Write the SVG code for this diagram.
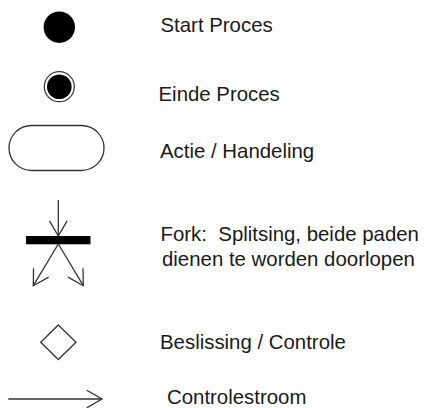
<svg xmlns="http://www.w3.org/2000/svg" width="426" height="408" viewBox="0 0 426 408">
<style>
.t{font-family:"Liberation Sans",Arial,sans-serif;font-size:20.4px;fill:#1a1a1a;white-space:pre}
.s{fill:none;stroke:#333;stroke-width:1.3}
.f{fill:#000}
</style>
<defs>
<marker id="v" markerUnits="userSpaceOnUse" viewBox="-18 -11 20 22" refX="0" refY="0" markerWidth="20" markerHeight="22" orient="auto">
<path d="M-15.2 -8.8 L0 0 L-15.2 8.8" fill="none" stroke="#333" stroke-width="1.3"/>
</marker>
</defs>
<rect width="426" height="408" fill="#fff"/>
<g id="start">
<circle class="f" cx="59.3" cy="27.2" r="15.7"/>
<text class="t" x="160.5" y="31.7">Start Proces</text>
</g>
<g id="einde">
<circle cx="59.3" cy="86.7" r="15" fill="none" stroke="#333" stroke-width="1.2"/>
<circle class="f" cx="59.3" cy="86.7" r="12.3"/>
<text class="t" x="158.5" y="101">Einde Proces</text>
</g>
<g id="actie">
<rect class="s" x="9" y="125.5" width="95" height="45" rx="22.5"/>
<text class="t" x="160" y="157.5">Actie / Handeling</text>
</g>
<g id="fork">
<rect class="f" x="26" y="236" width="64.5" height="8.3"/>
<text class="t" x="160.5" y="241" xml:space="preserve">Fork:  Splitsing, beide paden</text>
<text class="t" x="162" y="265.7">dienen te worden doorlopen</text>
</g>
<g id="beslissing">
<polygon class="s" points="58.3,325 76,342.3 58.3,359.5 40.7,342.3"/>
<text class="t" x="160" y="349">Beslissing / Controle</text>
</g>
<g id="controlestroom">
<text class="t" x="167" y="404.3">Controlestroom</text>
</g>
<g id="connectors">
<line class="s" x1="58.3" y1="200" x2="58.3" y2="236" marker-end="url(#v)"/>
<line class="s" x1="58.3" y1="244" x2="33.3" y2="285.7" marker-end="url(#v)"/>
<line class="s" x1="58.3" y1="244" x2="83.3" y2="285.7" marker-end="url(#v)"/>
<line class="s" x1="8.3" y1="399" x2="102" y2="399" marker-end="url(#v)"/>
</g>
</svg>
